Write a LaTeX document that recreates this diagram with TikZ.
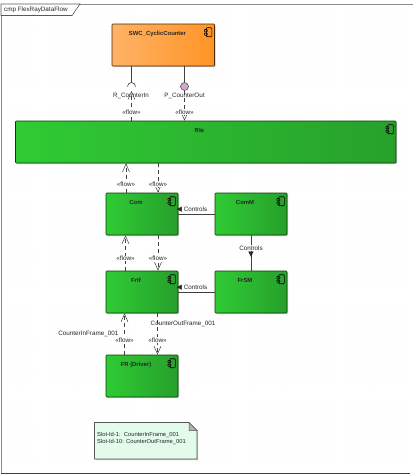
\documentclass[tikz,border=0pt]{standalone}
\usepackage{fontspec}
\setmainfont{Liberation Sans}
\newfontfamily\symfont{DejaVu Sans}
\usetikzlibrary{arrows.meta,shadows}

\definecolor{greenL}{HTML}{2FCB34}
\definecolor{greenR}{HTML}{27A02B}
\definecolor{orangeL}{HTML}{FFB266}
\definecolor{orangeR}{HTML}{FF9526}
\definecolor{noteFill}{HTML}{E3FBEA}

\tikzset{
  every node/.style={font=\fontsize{6.3}{7.5}\selectfont, text=black!85},
  comp/.style={draw=black!75!green, line width=0.6pt, rounded corners=0.8pt, minimum width=72pt, minimum height=42pt,
    left color=greenL, right color=greenR, drop shadow={shadow xshift=1pt, shadow yshift=-1pt, opacity=0.2, fill=black}},
  title/.style={font=\fontsize{5.9}{7}\selectfont\bfseries},
  flow/.style={draw=black!75, dash pattern=on 4pt off 3pt, line width=0.5pt, -{Straight Barb[length=8pt,width=7pt]}},
  link/.style={draw=black!75, line width=0.6pt},
  icon/.style={draw=black, line width=0.6pt, rounded corners=0.8pt}
}

% small component glyph, anchored at the top right of a box
\newcommand{\compicon}[1]{
  \draw[icon] ([shift={(-8.5,4)}]#1.north east) rectangle ++(5.5,9);
  \draw[icon] ([shift={(-10.5,5.8)}]#1.north east) rectangle ++(3,2.4);
  \draw[icon] ([shift={(-10.5,9.3)}]#1.north east) rectangle ++(3,2.4);
}

\begin{document}
\begin{tikzpicture}[x=1pt, y=-1pt]

\useasboundingbox (0,0) rectangle (413,474);
\fill[white] (0,0) rectangle (413,474);

% grid
\foreach \gx in {5,13.7,...,410} {
    \foreach \gy in {9,17.7,...,470} {
        \fill[black!6] (\gx,\gy) circle (0.5pt);
    }
}

% frame
\draw[black!45, line width=1pt] (1,473) -- (1,4) -- (413,4);
\draw[black!75, line width=1pt] (1,473) -- (410,473);
\draw[black!65, line width=0.6pt, fill=white] (1,4) -- (80,4) -- (72,15.5) -- (1,15.5) -- cycle;
\node[anchor=west, inner sep=0pt] (frameTitle) at (4,10) {cmp FlexRayDataFlow};

% components
\node[comp, minimum width=102.5pt, left color=orangeL, right color=orangeR, draw=black!70!orange] (swc) at (163.25,45) {};
\node[comp, minimum width=380.5pt] (rte) at (205.75,142) {};
\node[comp] (com) at (142,214) {};
\node[comp] (comm) at (251,214) {};
\node[comp] (frif) at (142,292) {};
\node[comp] (frsm) at (251,292) {};
\node[comp] (fr) at (142,376) {};

\node[title] (swcLabel) at (157.5,34) {SWC\_CyclicCounter};
\node[title] (rteLabel) at (199.5,130.5) {Rte};
\node[title] (comLabel) at (136,202.5) {Com};
\node[title] (commLabel) at (245,202.5) {ComM};
\node[title] (frifLabel) at (136,280) {FrIf};
\node[title] (frsmLabel) at (245,280) {FrSM};
\node[title] (frLabel) at (136,365) {FR (Driver)};

\foreach \c in {swc,rte,com,comm,frif,frsm,fr} {
    \compicon{\c}
}

% ports
\coordinate (rIn) at (131.5,91);
\node[draw=black!75, fill=violet!35, circle, inner sep=0pt, minimum size=8pt, line width=0.5pt] (pOut) at (184.5,86.5) {};
\draw[link] (swc.south -| rIn) -- (131.5,83);
\draw[link] (127.5,86.5) arc (180:360:4);
\draw[link] (swc.south -| pOut) -- (pOut);
\node (rInLabel) at (131,96) {R\_CounterIn};
\node (pOutLabel) at (184.5,96) {P\_CounterOut};

% flows
\draw[flow] (rte.north -| rIn) -- (rIn);
\draw[flow] (pOut) -- (rte.north -| pOut);
\node[fill=white, inner sep=0.5pt] (flow1) at (131.5,112) {«flow»};
\node[fill=white, inner sep=0.5pt] (flow2) at (184.5,112.5) {«flow»};

\foreach \lo/\up/\xa/\xb/\ya in {com/rte/126/158/184.5,frif/com/125.5/158/258.5,fr/frif/124.5/157.5/340} {
    \draw[flow] (\lo.north -| \xa,0) -- (\up.south -| \xa,0);
    \draw[flow] (\up.south -| \xb,0) -- (\lo.north -| \xb,0);
    \node[fill=white, inner sep=0.5pt] at (\xa,\ya) {«flow»};
    \node[fill=white, inner sep=0.5pt] at (\xb,\ya) {«flow»};
}
\node[anchor=east, inner sep=0pt] (inFrame) at (118.5,333.5) {CounterInFrame\_001};
\node[anchor=west, inner sep=0pt] (outFrame) at (150.5,323.5) {CounterOutFrame\_001};

% controls
\draw[link] (comm.west) -- (com.east);
\draw[link] (frsm.west) -- (frif.east);
\draw[link] (comm.south) -- (frsm.north);
\node[anchor=west, inner sep=0pt] (ctrl1) at (176.5,209.5) {{\symfont\fontsize{7}{7}\selectfont◀}\ Controls};
\node[anchor=west, inner sep=0pt] (ctrl2) at (176.5,287.5) {{\symfont\fontsize{7}{7}\selectfont◀}\ Controls};
\node[fill=white, inner sep=0.5pt] (ctrl3) at (251,248) {Controls};
\node[inner sep=0pt] (ctrl3dir) at (251,255) {\symfont\fontsize{7}{7}\selectfont▼};

% note
\draw[black!65, line width=0.6pt, fill=noteFill, drop shadow={shadow xshift=1pt, shadow yshift=-1pt, opacity=0.25, fill=black}] (94.5,422.5) -- (189,422.5) -- (197,430.5) -- (197,459) -- (94.5,459) -- cycle;
\draw[black!65, line width=0.5pt, fill=black!30] (189,422.5) -- (197,430.5) -- (189,430.5) -- cycle;
\node[anchor=west, inner sep=0pt, align=left, font=\fontsize{5.8}{7}\selectfont] (noteText) at (97,438) {Slot-Id-1:\ \ CounterInFrame\_001\\Slot-Id-10: CounterOutFrame\_001};

\end{tikzpicture}
\end{document}
